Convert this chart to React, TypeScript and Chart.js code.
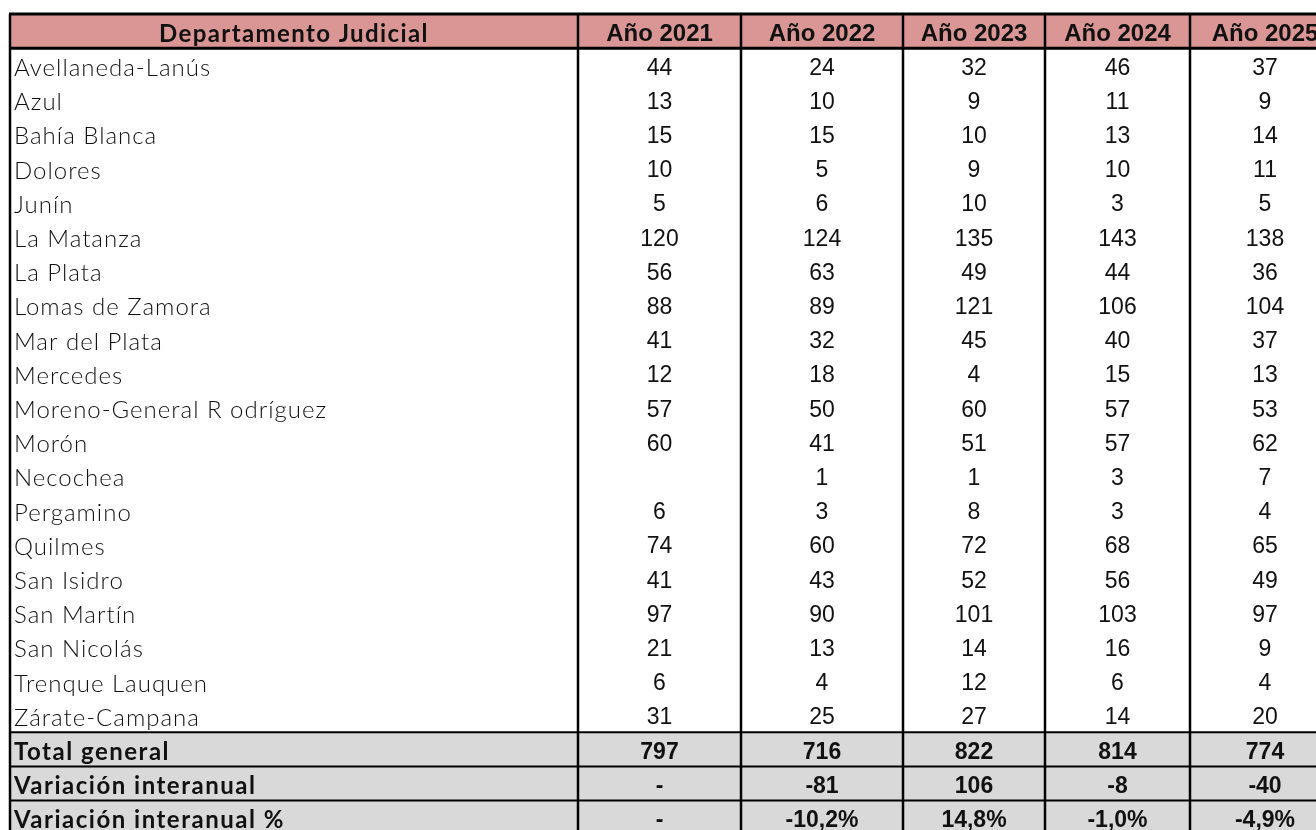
import React, { useEffect, useRef } from "react";
import { Chart, registerables } from "chart.js";

Chart.register(...registerables);

const headerLabel = "Departamento Judicial";
const years = ["Año 2021", "Año 2022", "Año 2023", "Año 2024", "Año 2025"];
const departments = [
  "Avellaneda-Lanús",
  "Azul",
  "Bahía Blanca",
  "Dolores",
  "Junín",
  "La Matanza",
  "La Plata",
  "Lomas de Zamora",
  "Mar del Plata",
  "Mercedes",
  "Moreno-General R odríguez",
  "Morón",
  "Necochea",
  "Pergamino",
  "Quilmes",
  "San Isidro",
  "San Martín",
  "San Nicolás",
  "Trenque Lauquen",
  "Zárate-Campana",
];
const y2021 = [44, 13, 15, 10, 5, 120, 56, 88, 41, 12, 57, 60, null, 6, 74, 41, 97, 21, 6, 31];
const y2022 = [24, 10, 15, 5, 6, 124, 63, 89, 32, 18, 50, 41, 1, 3, 60, 43, 90, 13, 4, 25];
const y2023 = [32, 9, 10, 9, 10, 135, 49, 121, 45, 4, 60, 51, 1, 8, 72, 52, 101, 14, 12, 27];
const y2024 = [46, 11, 13, 10, 3, 143, 44, 106, 40, 15, 57, 57, 3, 3, 68, 56, 103, 16, 6, 14];
const y2025 = [37, 9, 14, 11, 5, 138, 36, 104, 37, 13, 53, 62, 7, 4, 65, 49, 97, 9, 4, 20];
const summaryLabels = ["Total general", "Variación interanual", "Variación interanual %"];
const totals = ["797", "716", "822", "814", "774"];
const variation = ["-", "-81", "106", "-8", "-40"];
const variationPct = ["-", "-10,2%", "14,8%", "-1,0%", "-4,9%"];

// layout (scale units): column edges on x, rows on y
const COL_EDGES = [10, 578, 741, 903, 1045, 1190, 1340];
const ROW_H = 34.2;
const TOP = 14;
const W = 1316;
const H = 830;

const seriesByYear = [y2021, y2022, y2023, y2024, y2025];

const tablePlugin = {
  id: "tablePlugin",
  afterDraw(chart: any) {
    const ctx = chart.ctx as CanvasRenderingContext2D;
    const xs = chart.scales.x;
    const ys = chart.scales.y;
    const X = (v: number) => xs.getPixelForValue(v);
    const Y = (v: number) => ys.getPixelForValue(v);
    const nRows = 1 + departments.length + summaryLabels.length;
    const left = X(COL_EDGES[0]);
    const right = X(COL_EDGES[COL_EDGES.length - 1]);
    ctx.save();
    // backgrounds
    ctx.fillStyle = "#DA9694";
    ctx.fillRect(left, Y(0), right - left, Y(1) - Y(0));
    const sStart = 1 + departments.length;
    ctx.fillStyle = "#D9D9D9";
    ctx.fillRect(left, Y(sStart), right - left, Y(nRows) - Y(sStart));

    // texts
    ctx.fillStyle = "#111";
    ctx.textBaseline = "middle";
    const mid = (r: number) => (Y(r) + Y(r + 1)) / 2 + 3;
    const colMid = (c: number) => (X(COL_EDGES[c]) + X(COL_EDGES[c + 1])) / 2;

    // header
    (ctx as any).letterSpacing = "1.4px";
    ctx.font = "bold 24px Lato";
    ctx.textAlign = "center";
    ctx.fillText(headerLabel, colMid(0), mid(0));
    (ctx as any).letterSpacing = "0px";
    ctx.font = "bold 24px 'Liberation Sans'";
    years.forEach((yl, i) => ctx.fillText(yl, colMid(i + 1), mid(0)));

    // data rows
    departments.forEach((d, r) => {
      const row = r + 1;
      (ctx as any).letterSpacing = "1px";
      ctx.font = "300 24px Lato";
      ctx.textAlign = "left";
      ctx.fillText(d, left + 4, mid(row));
      (ctx as any).letterSpacing = "0px";
      ctx.font = "23px 'Liberation Sans'";
      ctx.textAlign = "center";
      seriesByYear.forEach((s, c) => {
        const v = s[r];
        if (v !== null && v !== undefined) ctx.fillText(String(v), colMid(c + 1), mid(row));
      });
    });

    // summary rows
    const sumVals = [totals, variation, variationPct];
    summaryLabels.forEach((lab, k) => {
      const row = sStart + k;
      (ctx as any).letterSpacing = "1.5px";
      ctx.font = "bold 24px Lato";
      ctx.textAlign = "left";
      ctx.fillText(lab, left + 4, mid(row));
      (ctx as any).letterSpacing = "0px";
      ctx.font = "bold 23px 'Liberation Sans'";
      ctx.textAlign = "center";
      sumVals[k].forEach((v, c) => ctx.fillText(v, colMid(c + 1), mid(row)));
    });

    // lines
    ctx.strokeStyle = "#000";
    const hline = (r: number, w: number) => {
      ctx.lineWidth = w;
      ctx.beginPath();
      ctx.moveTo(left - 1, Y(r));
      ctx.lineTo(right, Y(r));
      ctx.stroke();
    };
    hline(0, 3);
    hline(1, 3);
    for (let r = sStart; r <= nRows; r++) hline(r, 2);
    COL_EDGES.forEach((e) => {
      ctx.lineWidth = 2.5;
      ctx.beginPath();
      ctx.moveTo(X(e), Y(0));
      ctx.lineTo(X(e), Y(nRows));
      ctx.stroke();
    });
    ctx.restore();
  },
};

export default function App() {
  const ref = useRef<HTMLCanvasElement>(null);
  useEffect(() => {
    if (!ref.current) return;
    const yMin = -TOP / ROW_H;
    const yMax = yMin + H / ROW_H;
    const chart = new Chart(ref.current, {
      type: "scatter",
      data: {
        datasets: [
          {
            data: departments.map((_, i) => ({ x: COL_EDGES[0], y: i + 1.5 })),
            pointRadius: 0,
            showLine: false,
          },
        ],
      },
      options: {
        animation: false,
        responsive: false,
        maintainAspectRatio: false,
        layout: { padding: 0 },
        plugins: { legend: { display: false }, tooltip: { enabled: false } },
        events: [],
        scales: {
          x: { type: "linear", min: 0, max: W, display: false },
          y: { type: "linear", min: yMin, max: yMax, reverse: true, display: false },
        },
      },
      plugins: [tablePlugin],
    });
    return () => chart.destroy();
  }, []);
  return (
    <div style={{ position: "absolute", left: 0, top: 0, width: W, height: H, background: "#fff" }}>
      <canvas ref={ref} width={W} height={H} style={{ display: "block" }} />
    </div>
  );
}
